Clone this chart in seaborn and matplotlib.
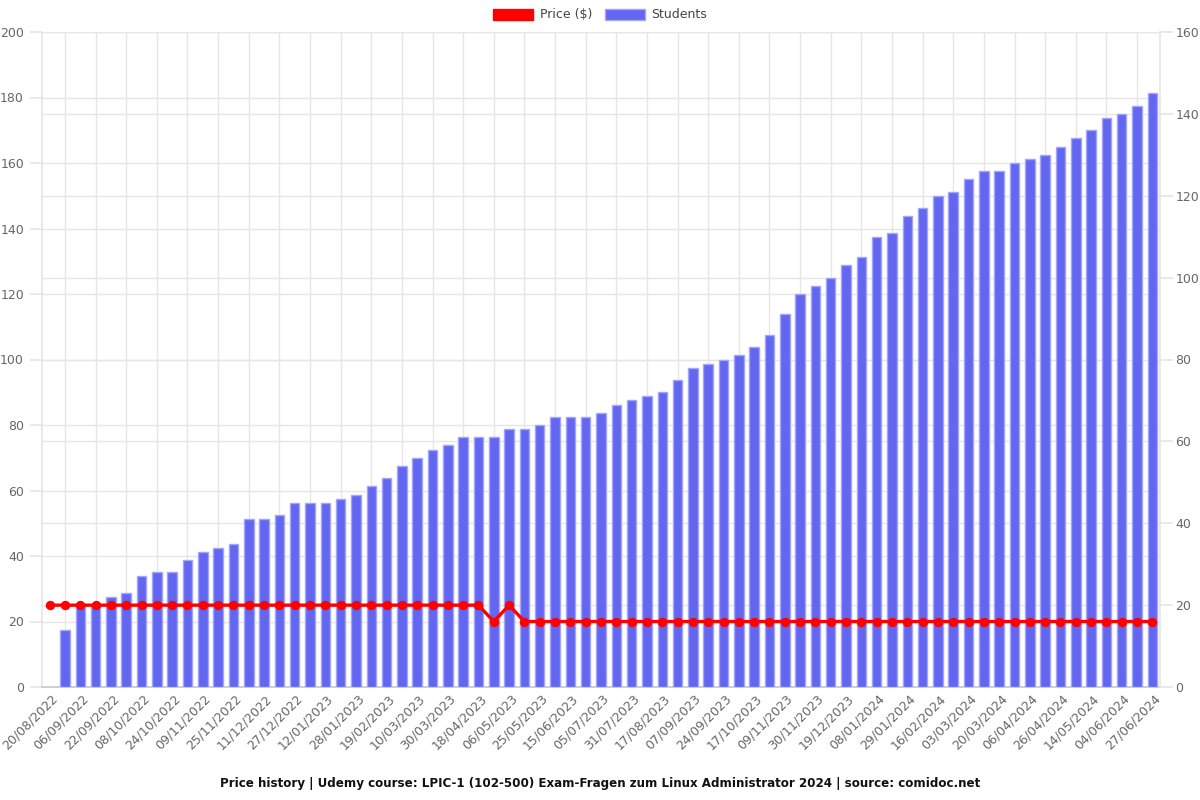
import numpy as np
import pandas as pd
import matplotlib
matplotlib.use("Agg")
import matplotlib.pyplot as plt
from matplotlib.patches import Patch
from matplotlib.transforms import ScaledTranslation
import seaborn as sns

# ---- data ----
tick_labels = ["20/08/2022", "06/09/2022", "22/09/2022", "08/10/2022", "24/10/2022",
               "09/11/2022", "25/11/2022", "11/12/2022", "27/12/2022", "12/01/2023",
               "28/01/2023", "19/02/2023", "10/03/2023", "30/03/2023", "18/04/2023",
               "06/05/2023", "25/05/2023", "15/06/2023", "05/07/2023", "31/07/2023",
               "17/08/2023", "07/09/2023", "24/09/2023", "17/10/2023", "09/11/2023",
               "30/11/2023", "19/12/2023", "08/01/2024", "29/01/2024", "16/02/2024",
               "03/03/2024", "20/03/2024", "06/04/2024", "26/04/2024", "14/05/2024",
               "04/06/2024", "27/06/2024"]

students = [np.nan, 14, 20, 20, 22, 23, 27, 28, 28, 31, 33, 34, 35, 41, 41, 42, 45, 45, 45,
            46, 47, 49, 51, 54, 56, 58, 59, 61, 61, 61, 63, 63, 64, 66, 66, 66, 67, 69,
            70, 71, 72, 75, 78, 79, 80, 81, 83, 86, 91, 96, 98, 100, 103, 105, 110, 111,
            115, 117, 120, 121, 124, 126, 126, 128, 129, 130, 132, 134, 136, 139, 140,
            142, 145]

price = [24.99] * 29 + [19.99, 24.99] + [19.99] * 42

title = ("Price history | Udemy course: LPIC-1 (102-500) Exam-Fragen zum Linux "
         "Administrator 2024 | source: comidoc.net")

n = len(students)
df = pd.DataFrame({"idx": np.arange(n), "students": students, "price": price})

# ---- style ----
sns.set_theme(style="white")
plt.rcParams["font.family"] = ["DejaVu Sans"]
BAR = "#6366f1"
BAR_EDGE = "#a3a5f7"
RED = "#ff0000"
GRID = "#e6e6e6"
TXT = "#666666"

fig = plt.figure(figsize=(12, 8), dpi=100)
rect = [42 / 1200, 1 - 687 / 800, (1160 - 42) / 1200, (687 - 32) / 800]
ax = fig.add_axes(rect)          # price axis (left) + price grid
ax2 = ax.twinx()                 # students bars (right)
ax3 = ax.twinx()                 # price line on top

ax.set_zorder(0)
ax2.set_zorder(1)
ax3.set_zorder(2)
ax2.patch.set_visible(False)
ax3.patch.set_visible(False)

# bars
sns.barplot(data=df, x="idx", y="students", ax=ax2, color=BAR, width=0.62,
            edgecolor=BAR_EDGE, linewidth=1, saturation=1, order=list(range(n)))
# line
sns.lineplot(data=df, x="idx", y="price", ax=ax3, color=RED, linewidth=2.4,
             marker="o", markersize=6, markeredgecolor=RED, sort=False)

for a in (ax, ax2, ax3):
    a.set_xlim(-0.5, n - 0.5)
    a.set_xlabel("")
    a.set_ylabel("")

ax.set_ylim(0, 200)
ax3.set_ylim(0, 200)
ax2.set_ylim(0, 160)

# x ticks (shared): labels on even categories, grid/ticks on odd ones
ax.set_xticks(np.arange(0, n, 2))
ax.set_xticklabels(tick_labels, rotation=45, ha="right", va="center",
                   rotation_mode="anchor", fontsize=9, color=TXT)
ax.set_xticks(np.arange(1, n, 2), minor=True)
ax.tick_params(axis="x", which="major", length=0, pad=7)
ax.tick_params(axis="x", which="minor", length=8, color=GRID)
ax.grid(axis="x", which="minor", color=GRID, linewidth=1)
ax.grid(axis="x", which="major", visible=False)
shift = ScaledTranslation(6 / 100, 0, fig.dpi_scale_trans)
for lab in ax.get_xticklabels():
    lab.set_transform(lab.get_transform() + shift)

# left axis
ax.set_yticks(np.arange(0, 201, 20))
ax.tick_params(axis="y", length=9, color=GRID, labelsize=9, labelcolor=TXT, pad=4)
ax.grid(axis="y", color=GRID, linewidth=1)
ax.set_axisbelow(True)

# right axis
ax2.set_yticks(np.arange(0, 161, 20))
ax2.tick_params(axis="y", length=9, color=GRID, labelsize=9, labelcolor=TXT, pad=2)
ax2.grid(axis="y", color=GRID, linewidth=1)
ax2.grid(axis="x", which="both", visible=False)
ax2.set_axisbelow(True)
ax2.tick_params(axis="x", which="both", bottom=False, top=False,
                labelbottom=False, labeltop=False)

# top axis for line: hide everything
ax3.tick_params(axis="both", which="both", left=False, right=False, bottom=False,
                top=False, labelleft=False, labelright=False, labelbottom=False,
                labeltop=False)
ax3.grid(False)
for s in ax3.spines.values():
    s.set_visible(False)
if ax3.get_legend():
    ax3.get_legend().remove()

for a in (ax, ax2):
    for s in a.spines.values():
        s.set_visible(False)
ax.spines["left"].set_visible(True)
ax.spines["left"].set_color(GRID)
ax.spines["bottom"].set_visible(True)
ax.spines["bottom"].set_color("#c8c8c8")
ax2.spines["right"].set_visible(True)
ax2.spines["right"].set_color(GRID)

# legend
handles = [Patch(facecolor=RED, edgecolor=RED, label="Price ($)"),
           Patch(facecolor=BAR, edgecolor=BAR_EDGE, label="Students")]
fig.legend(handles=handles, loc="center", bbox_to_anchor=(0.5, 1 - 15 / 800), ncol=2,
           frameon=False, fontsize=9, handlelength=3.2, handleheight=1.0,
           handletextpad=0.5, columnspacing=1.0, labelcolor="#444444")

fig.text(0.5, 1 - 783 / 800, title, ha="center", va="center", fontsize=8.6,
         fontweight="bold", color="#111111")

fig.savefig("out.png", dpi=100)
